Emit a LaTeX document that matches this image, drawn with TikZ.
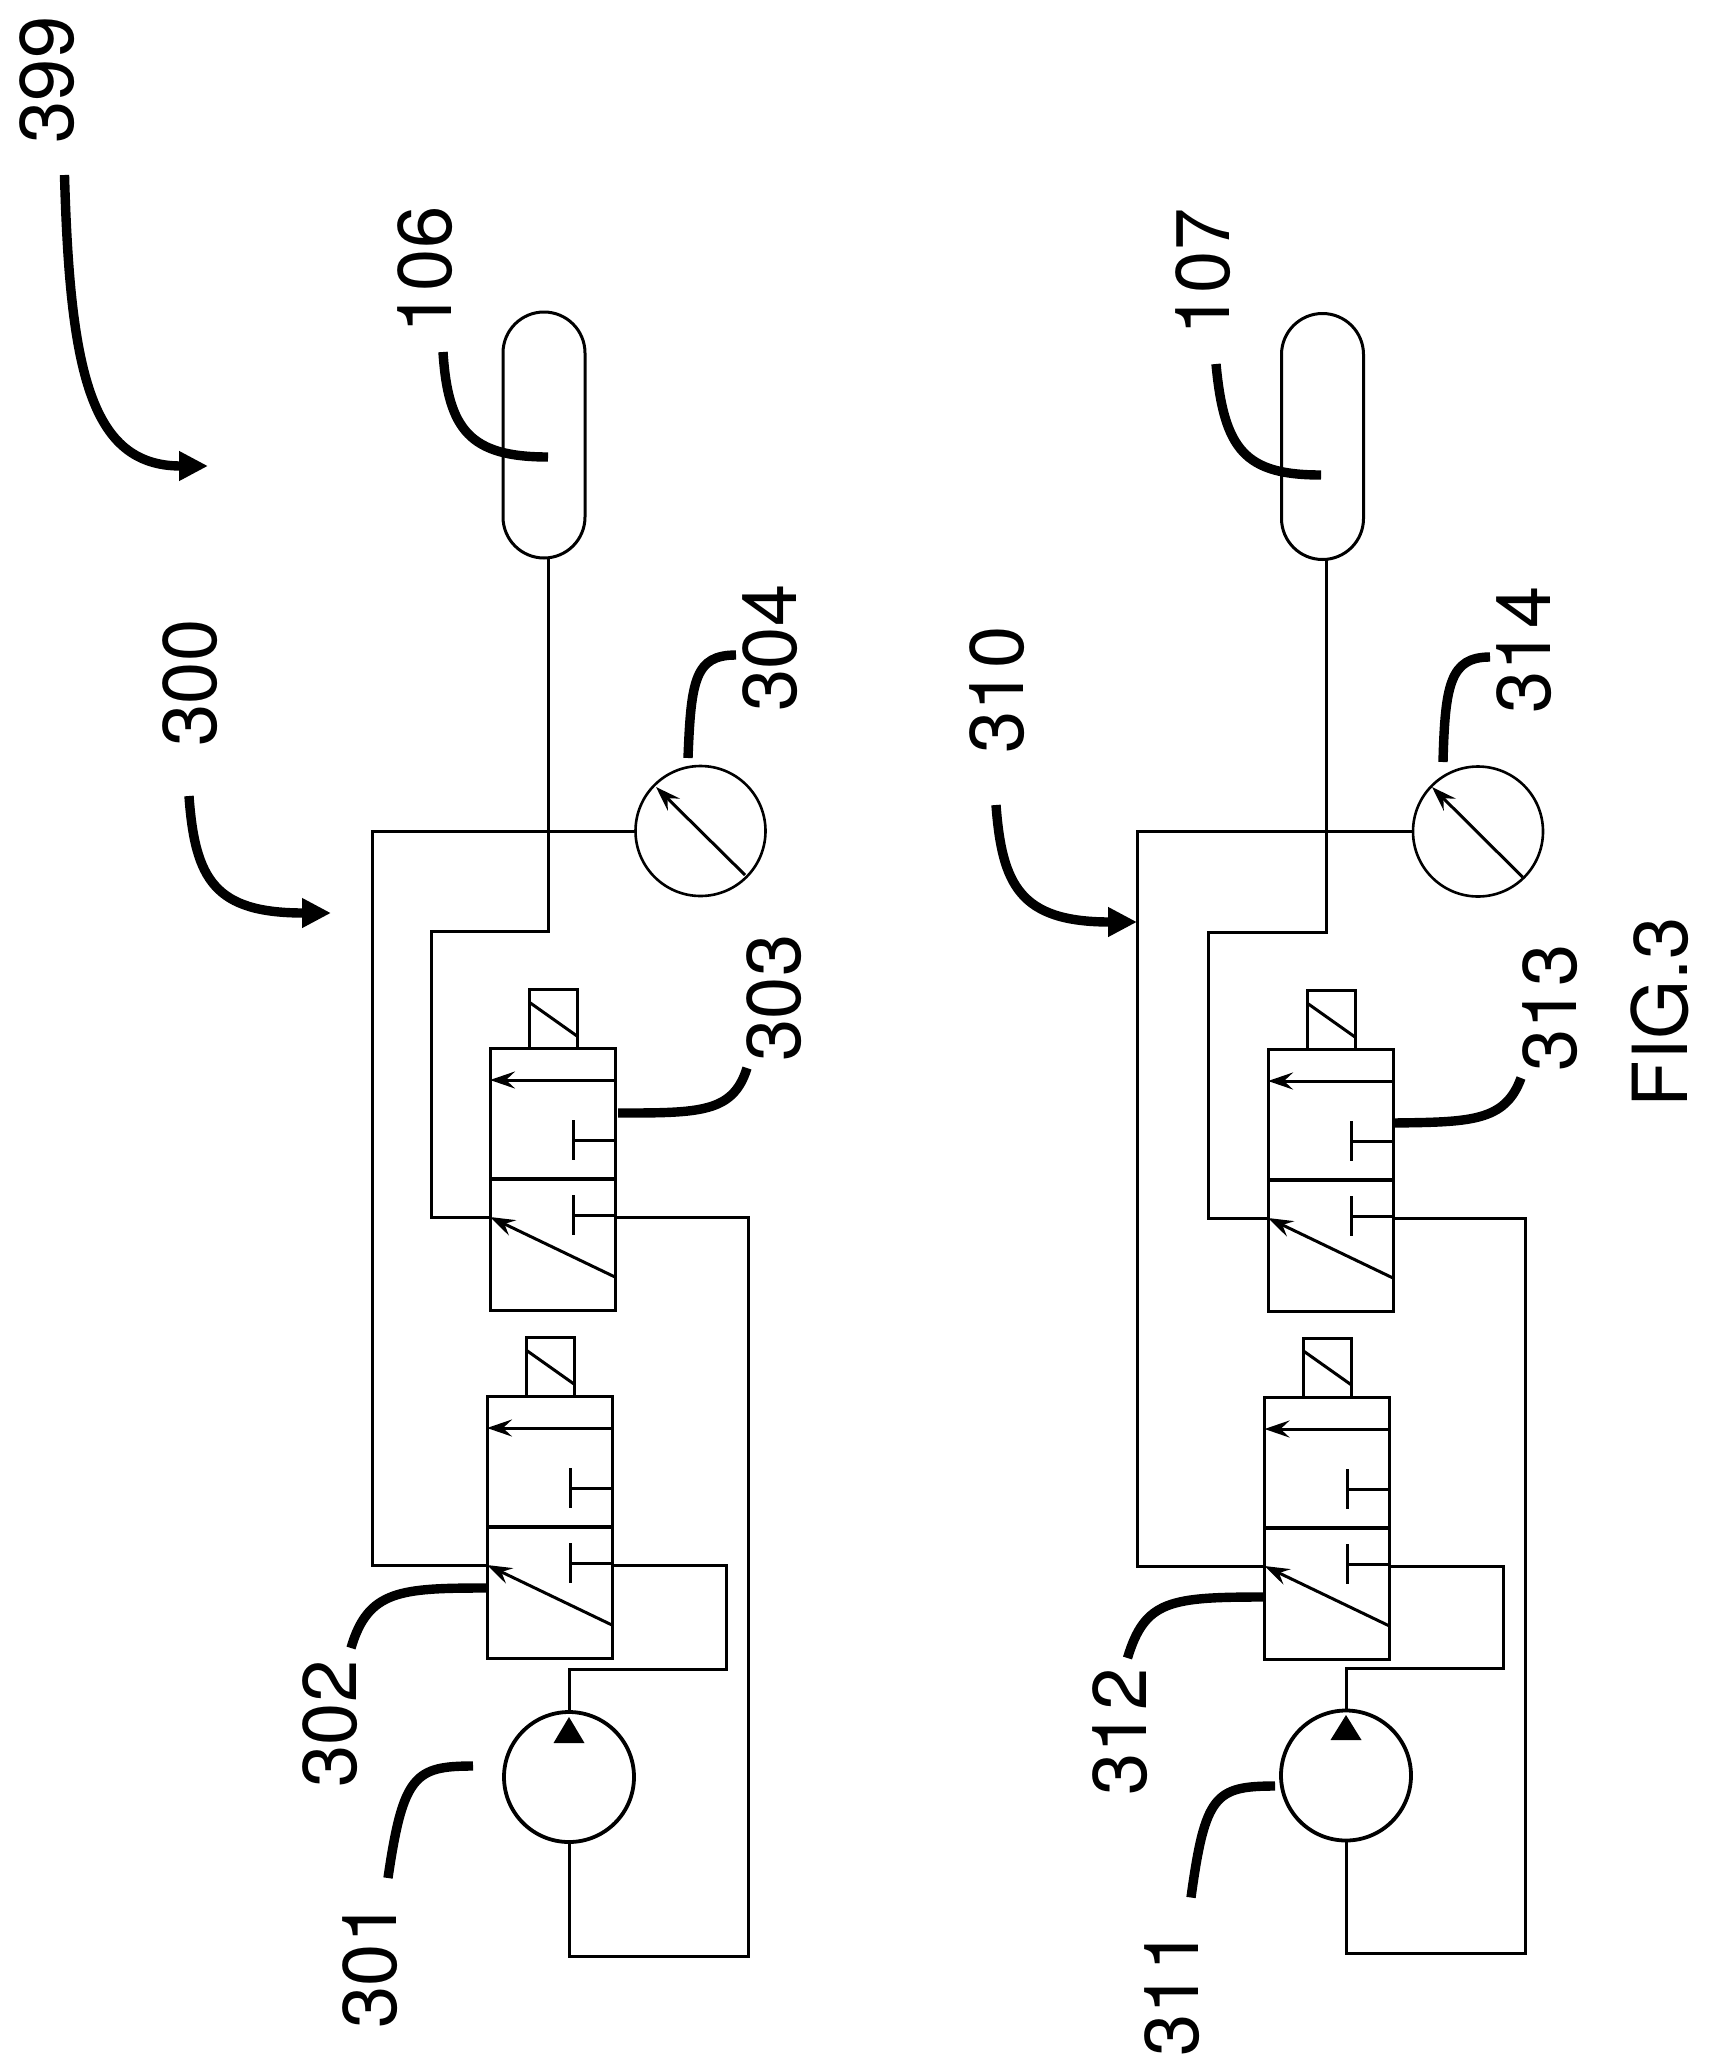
\documentclass[tikz,border=0pt]{standalone}
\usepackage{fontspec}
\setmainfont{TeX Gyre Heros}
\usetikzlibrary{arrows.meta}
\tikzset{
  x=0.5pt,y=-0.5pt,
  thinline/.style={line width=1.5pt,line join=miter},
  pipe/.style={thinline},
  box/.style={draw,line width=1.5pt,inner sep=0pt,outer sep=0pt},
  valvebox/.style={box,rectangle,minimum width=62.5pt,minimum height=131pt},
  solbox/.style={box,rectangle,minimum width=24pt,minimum height=29.5pt},
  gaugering/.style={box,circle,line width=1.3pt,minimum size=65pt},
  pumpring/.style={box,circle,line width=1.9pt,minimum size=65pt},
  tankbox/.style={box,rectangle,rounded corners=20.5pt,minimum width=41pt,minimum height=123pt},
  leader/.style={line width=4.7pt},
  bigarrow/.style={leader,-{Triangle[length=14.5pt,width=14pt]}},
  smallarrow/.style={thinline,-{Stealth[length=12.5pt,width=8.5pt,inset=4.5pt]}},
  num/.style={rotate=90,inner sep=0pt,outer sep=0pt,font=\fontsize{38}{40}\selectfont},
}
\newcommand{\valveunit}[3]{%
  \node[valvebox] (#1) at ({#2+62.5},{#3+131}) {};
  \node[solbox] (#1-sol) at ({#2+63},{#3-29.5}) {};
  \coordinate (#1-pl) at (#2,{#3+169});
  \coordinate (#1-pr) at ({#2+125},{#3+169});
  \coordinate (#1-al) at (#2,{#3+32});
  \coordinate (#1-ar) at ({#2+125},{#3+32});
  \coordinate (#1-dr) at ({#2+125},{#3+229});
  \coordinate (#1-ml) at (#2,{#3+131});
  \coordinate (#1-mr) at ({#2+125},{#3+131});
  \coordinate (#1-ta) at ({#2+83},{#3+92});
  \coordinate (#1-tb) at ({#2+83},{#3+167});
  \coordinate (#1-ra) at ({#2+125},{#3+92});
  \coordinate (#1-rb) at ({#2+125},{#3+167});
  \coordinate (#1-ta1) at ({#2+83},{#3+72});
  \coordinate (#1-ta2) at ({#2+83},{#3+112});
  \coordinate (#1-tb1) at ({#2+83},{#3+147});
  \coordinate (#1-tb2) at ({#2+83},{#3+187});
  \coordinate (#1-s1) at ({#2+39},{#3-46});
  \coordinate (#1-s2) at ({#2+87},{#3-12});
  \draw[line width=2pt] (#1-ml) -- (#1-mr);
  \draw[thinline] (#1-ta) -- (#1-ra) (#1-tb) -- (#1-rb);
  \draw[thinline] (#1-ta1) -- (#1-ta2) (#1-tb1) -- (#1-tb2);
  \draw[thinline] (#1-s1) -- (#1-s2);
  \draw[smallarrow] (#1-ar) -- (#1-al);
  \draw[smallarrow] (#1-dr) -- (#1-pl);
}
\newcommand{\pumptri}[3]{%
  \fill (#1,#2) -- ({#1-15.5},#3) -- ({#1+15.5},#3) -- cycle;
}
\begin{document}
\begin{tikzpicture}
\useasboundingbox (0,0) rectangle (1710,2071);

% ---- group 300
\valveunit{vB}{490}{1048}
\valveunit{vA}{487}{1396}
\node[pumpring] (pumpA) at (569,1777) {};
\pumptri{569}{1717}{1743}
\node[gaugering] (gaugeA) at (700.5,831) {};
\node[tankbox] (tankA) at (544,435) {};
\coordinate (gAt) at (656,787);
\coordinate (gAb) at (745,875);
\draw[smallarrow] (gAb) -- (gAt);
\coordinate (tAp) at (548,558);
\coordinate (a1) at (372,831);
\coordinate (a2) at (548,931);
\coordinate (a3) at (431,931);
\coordinate (a4) at (748,1956);
\coordinate (a5) at (726,1669);
\draw[pipe] (gaugeA.west) -- (a1) |- (vA-pl);
\draw[pipe] (tAp) -- (a2) -- (a3) |- (vB-pl);
\draw[pipe] (vB-pr) -| (a4) -| (pumpA.south);
\draw[pipe] (vA-pr) -| (a5) -| (pumpA.north);

% ---- group 310
\valveunit{vD}{1268}{1049}
\valveunit{vC}{1264.5}{1397}
\node[pumpring] (pumpC) at (1346,1775.5) {};
\pumptri{1346}{1715}{1740}
\node[gaugering] (gaugeC) at (1478,831.5) {};
\node[tankbox] (tankC) at (1322.5,436.5) {};
\coordinate (gCt) at (1432,787);
\coordinate (gCb) at (1522.5,877);
\draw[smallarrow] (gCb) -- (gCt);
\coordinate (tCp) at (1326,560);
\coordinate (c1) at (1137,831.5);
\coordinate (c2) at (1326,932);
\coordinate (c3) at (1208.5,932);
\coordinate (c4) at (1525.5,1953);
\coordinate (c5) at (1503.5,1668);
\draw[pipe] (gaugeC.west) -- (c1) |- (vC-pl);
\draw[pipe] (tCp) -- (c2) -- (c3) |- (vD-pl);
\draw[pipe] (vD-pr) -| (c4) -| (pumpC.south);
\draw[pipe] (vC-pr) -| (c5) -| (pumpC.north);

% ---- labels
\node[num] (t399) at (47,80) {399};
\node[num] (t106) at (425,270) {106};
\node[num] (t300) at (190,683) {300};
\node[num] (t304) at (770,648) {304};
\node[num] (t303) at (774,998) {303};
\node[num] (t302) at (330,1724) {302};
\node[num] (t301) at (370,1965) {301};
\node[num] (t107) at (1203,272) {107};
\node[num] (t310) at (997,690) {310};
\node[num] (t314) at (1524,650) {314};
\node[num] (t313) at (1550,1008) {313};
\node[num] (t312) at (1120,1732) {312};
\node[num] (t311) at (1172,1993) {311};
\node[num] (tfig) at (1660,1012) {FIG.3};

% ---- leaders
\coordinate (l399) at (64.5,175);   \coordinate (e399) at (208,466);
\coordinate (l300) at (189,796);    \coordinate (e300) at (331,913);
\coordinate (l310) at (996,805);    \coordinate (e310) at (1137,922);
\draw[bigarrow] (l399) .. controls (70,370) and (90,466) .. (e399);
\draw[bigarrow] (l300) .. controls (195,880) and (215,913) .. (e300);
\draw[bigarrow] (l310) .. controls (1002,885) and (1020,922) .. (e310);
\coordinate (l106) at (443,352);    \coordinate (e106) at (548,457);
\coordinate (l107) at (1216,364);   \coordinate (e107) at (1321,475);
\coordinate (l304) at (688,758);    \coordinate (e304) at (736,655);
\coordinate (l314) at (1443,762);   \coordinate (e314) at (1490,657);
\coordinate (l303) at (618,1113);   \coordinate (e303) at (747,1068);
\coordinate (l313) at (1393,1123);  \coordinate (e313) at (1521,1078);
\coordinate (l302) at (487,1588);   \coordinate (e302) at (351,1648);
\coordinate (l312) at (1265,1597);  \coordinate (e312) at (1127.5,1658);
\coordinate (l301) at (473,1766);   \coordinate (e301) at (388,1878);
\coordinate (l311) at (1275,1786);  \coordinate (e311) at (1191,1897.5);
\draw[leader] (l106) .. controls (448,430) and (470,457) .. (e106);
\draw[leader] (l107) .. controls (1224,450) and (1245,475) .. (e107);
\draw[leader] (l304) .. controls (691,680) and (695,655) .. (e304);
\draw[leader] (l314) .. controls (1445,685) and (1450,657) .. (e314);
\draw[leader] (l303) .. controls (700,1113) and (733,1113) .. (e303);
\draw[leader] (l313) .. controls (1470,1122) and (1505,1122) .. (e313);
\draw[leader] (l302) .. controls (400,1588) and (368,1590) .. (e302);
\draw[leader] (l312) .. controls (1170,1597) and (1145,1600) .. (e312);
\draw[leader] (l301) .. controls (415,1766) and (403,1775) .. (e301);
\draw[leader] (l311) .. controls (1215,1786) and (1205,1795) .. (e311);
\end{tikzpicture}
\end{document}
